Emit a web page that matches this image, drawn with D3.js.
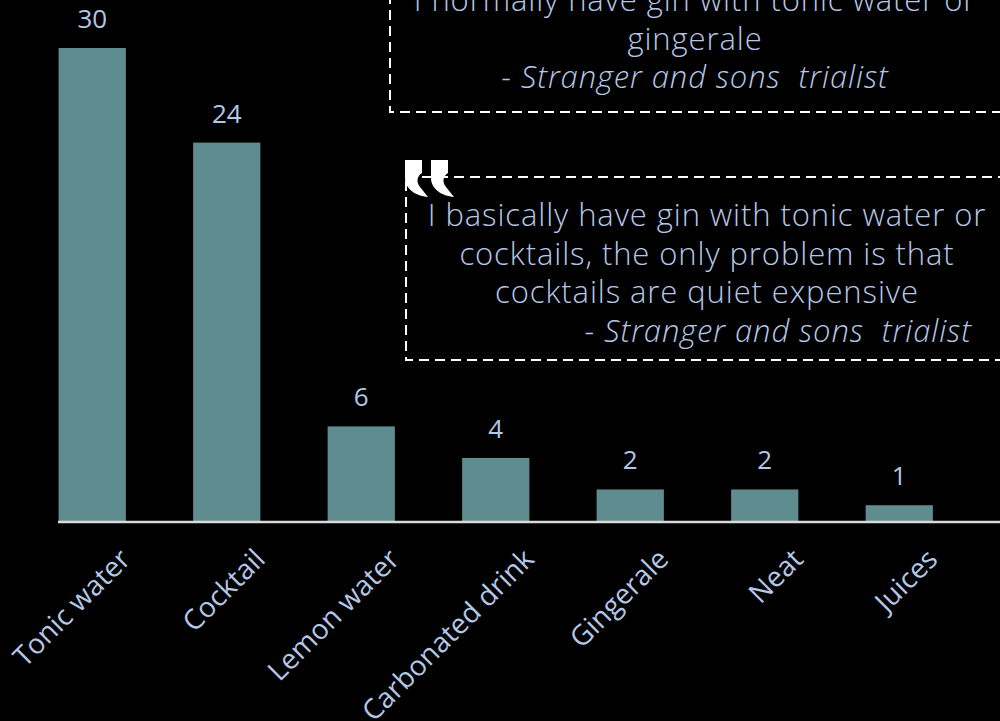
<!DOCTYPE html>
<html>
<head>
<meta charset="utf-8">
<script src="https://cdn.jsdelivr.net/npm/d3@7"></script>
<style>
  html, body { margin: 0; padding: 0; background: #000; }
  svg { display: block; }
</style>
</head>
<body>
<svg id="chart" width="1000" height="721"></svg>
<script>
// Mixers people drink their gin with
const categories = ["Tonic water", "Cocktail", "Lemon water", "Carbonated drink", "Gingerale", "Neat", "Juices"];
const counts = [30, 24, 6, 4, 2, 2, 1];

// Trialist quotes (one line per entry; the last line is the attribution)
const quoteTop = ["I normally have gin with tonic water or", "gingerale", "- Stranger and sons  trialist"];
const quoteMain = ["I basically have gin with tonic water or", "cocktails, the only problem is that", "cocktails are quiet expensive", "- Stranger and sons  trialist"];

const W = 1000, H = 721;
const baseY = 521;
const barColor = "#5f8d8f";
const textColor = "#b4c7e7";

const svg = d3.select("#chart");
svg.append("rect").attr("width", W).attr("height", H).attr("fill", "#000");

const x = d3.scaleBand().domain(categories).range([25, 966.5]).paddingInner(0.5).paddingOuter(0.25);
const y = d3.scaleLinear().domain([0, 30]).range([baseY, 48]);

// Bars
svg.append("g").selectAll("rect").data(categories).join("rect")
  .attr("x", d => x(d))
  .attr("width", x.bandwidth())
  .attr("y", (d, i) => y(counts[i]))
  .attr("height", (d, i) => baseY - y(counts[i]))
  .attr("fill", barColor);

// Value labels
svg.append("g").selectAll("text").data(categories).join("text")
  .attr("x", d => x(d) + x.bandwidth() / 2)
  .attr("y", (d, i) => y(counts[i]) - 20)
  .attr("text-anchor", "middle")
  .attr("font-family", "'Open Sans', sans-serif")
  .attr("font-size", 26)
  .attr("fill", textColor)
  .text((d, i) => counts[i]);

// Category axis
const axis = d3.axisBottom(x).tickSize(0).tickPadding(0);
const ax = svg.append("g").attr("transform", `translate(0,${baseY})`).call(axis);
ax.select(".domain").remove();
ax.append("line").attr("x1", 58).attr("x2", W).attr("y1", 1).attr("y2", 1)
  .attr("stroke", "#d9d9d9").attr("stroke-width", 2.5);
ax.selectAll(".tick text")
  .attr("fill", textColor)
  .attr("font-family", "'Open Sans', sans-serif")
  .attr("font-size", 28)
  .attr("text-anchor", "end")
  .attr("dy", "0.35em")
  .attr("y", 0)
  .attr("transform", "translate(33,33) rotate(-45)");

// Quote boxes
function quoteBox(lines, box, cx, firstBaseline, attribEnd) {
  const g = svg.append("g");
  g.append("rect")
    .attr("x", box.x).attr("y", box.y).attr("width", box.w).attr("height", box.h)
    .attr("fill", "none").attr("stroke", "#fff").attr("stroke-width", 2)
    .attr("stroke-dasharray", "10,6");
  g.selectAll("text").data(lines).join("text")
    .attr("x", (d, i) => i === lines.length - 1 && attribEnd ? attribEnd : cx)
    .attr("y", (d, i) => firstBaseline + i * 38.5)
    .attr("text-anchor", (d, i) => i === lines.length - 1 && attribEnd ? "end" : "middle")
    .attr("font-family", "'Open Sans', sans-serif")
    .attr("font-weight", 350)
    .attr("font-style", (d, i) => i === lines.length - 1 ? "italic" : "normal")
    .attr("font-size", 31)
    .attr("letter-spacing", 0.9)
    .attr("fill", textColor)
    .style("white-space", "pre")
    .text(d => d);
  return g;
}

quoteBox(quoteTop, { x: 390, y: -20, w: 640, h: 132 }, 695, 11, null);
const main = quoteBox(quoteMain, { x: 406, y: 177, w: 640, h: 183 }, 707, 226, 972);

// Opening quotation mark on the second box
const mark = "M0,0 L17,0 L17,13 C12,16 11,22 15,27 L23,37 C11,36 0,29 0,18 Z";
[405, 431].forEach(ox => {
  main.append("path").attr("d", mark).attr("transform", `translate(${ox},160)`).attr("fill", "#fff");
});
</script>
</body>
</html>
